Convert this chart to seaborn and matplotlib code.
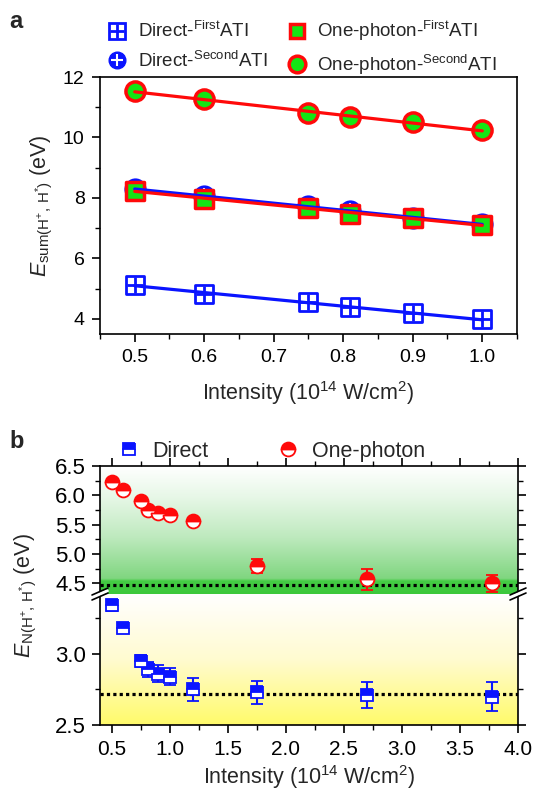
import numpy as np
import pandas as pd
import matplotlib
matplotlib.use("Agg")
import matplotlib.pyplot as plt
import seaborn as sns
from matplotlib.colors import LinearSegmentedColormap
from matplotlib.lines import Line2D
from matplotlib.ticker import MultipleLocator

sns.set_theme(style="ticks")
plt.rcParams["font.family"] = ["Liberation Sans", "DejaVu Sans"]
plt.rcParams["mathtext.fontset"] = "custom"
plt.rcParams["mathtext.rm"] = "Liberation Sans"
plt.rcParams["mathtext.it"] = "Liberation Sans:italic"
plt.rcParams["mathtext.bf"] = "Liberation Sans:bold"

# ---------------- Panel a data ----------------
intensity_a = [0.5, 0.6, 0.75, 0.81, 0.9, 1.0]
direct_first = [5.12, 4.83, 4.56, 4.39, 4.18, 3.98]
direct_second = [8.29, 8.07, 7.72, 7.57, 7.33, 7.14]
onephoton_first = [8.23, 7.98, 7.68, 7.47, 7.33, 7.10]
onephoton_second = [11.53, 11.28, 10.80, 10.67, 10.50, 10.25]
labels_a = ["Direct-$^{\\mathrm{First}}$ATI", "Direct-$^{\\mathrm{Second}}$ATI",
            "One-photon-$^{\\mathrm{First}}$ATI", "One-photon-$^{\\mathrm{Second}}$ATI"]

# ---------------- Panel b data ----------------
intensity_b = [0.5, 0.6, 0.75, 0.81, 0.9, 1.0, 1.2, 1.75, 2.7, 3.78]
direct_b = [3.34, 3.18, 2.95, 2.89, 2.86, 2.84, 2.75, 2.73, 2.71, 2.70]
direct_err = [0.04, 0.03, 0.04, 0.05, 0.06, 0.06, 0.08, 0.08, 0.09, 0.10]
onephoton_b = [6.23, 6.09, 5.91, 5.75, 5.70, 5.66, 5.56, 4.80, 4.57, 4.50]
onephoton_err = [0.04, 0.04, 0.04, 0.04, 0.04, 0.04, 0.04, 0.12, 0.18, 0.15]
direct_limit = 2.72
onephoton_limit = 4.48
labels_b = ["Direct", "One-photon"]

BLUE = "#0a14ff"
RED = "#ff0a0a"
GREEN = "#14e614"
W, H = 534, 794
FT = 14      # tick labels
FL = 15.5    # axis labels

fig = plt.figure(figsize=(W / 100, H / 100), dpi=100)

def fx(px):
    return px / W

def fy(py):
    return 1 - py / H

# ================= Panel a =================
axa = fig.add_axes([fx(100), fy(334), (517 - 100) / W, (334 - 77) / H])
dfa = pd.DataFrame({"x": intensity_a, "df": direct_first, "ds": direct_second,
                    "of": onephoton_first, "os": onephoton_second})

sns.scatterplot(data=dfa, x="x", y="df", marker="s", s=150, facecolor="white",
                edgecolor=BLUE, linewidth=2, ax=axa, zorder=3)
sns.scatterplot(data=dfa, x="x", y="df", marker="+", s=130, color=BLUE,
                linewidth=2, ax=axa, zorder=4)
sns.scatterplot(data=dfa, x="x", y="ds", marker="o", s=210, facecolor=BLUE,
                edgecolor=BLUE, linewidth=1.5, ax=axa, zorder=3)
sns.scatterplot(data=dfa, x="x", y="ds", marker="+", s=120, color="white",
                linewidth=1.5, ax=axa, zorder=4)
sns.scatterplot(data=dfa, x="x", y="of", marker="s", s=150, facecolor=GREEN,
                edgecolor=RED, linewidth=2.5, ax=axa, zorder=5)
sns.scatterplot(data=dfa, x="x", y="os", marker="o", s=190, facecolor=GREEN,
                edgecolor=RED, linewidth=2.5, ax=axa, zorder=5)
for col, c, z in [("df", BLUE, 6), ("ds", BLUE, 6), ("of", RED, 7), ("os", RED, 7)]:
    sns.regplot(data=dfa, x="x", y=col, ci=None, scatter=False, ax=axa,
                line_kws=dict(color=c, lw=2.3, zorder=z))

axa.set_xlim(0.45, 1.05)
axa.set_ylim(3.5, 12)
axa.xaxis.set_minor_locator(MultipleLocator(0.05))
axa.yaxis.set_major_locator(MultipleLocator(2))
axa.yaxis.set_minor_locator(MultipleLocator(1))
axa.set_xticks([0.5, 0.6, 0.7, 0.8, 0.9, 1.0])
axa.set_xticklabels(["0.5", "0.6", "0.7", "0.8", "0.9", "1.0"])
axa.set_xlabel("Intensity (10$^{14}$ W/cm$^{2}$)", fontsize=FL, labelpad=9)
axa.set_ylabel("$E_{\\mathrm{sum(H^{+},\\,H^{*})}}$ (eV)", fontsize=FL, labelpad=6)

h_df = (Line2D([], [], ls="", marker="s", ms=11, mfc="white", mec=BLUE, mew=2),
        Line2D([], [], ls="", marker="+", ms=10, color=BLUE, mew=2))
h_ds = (Line2D([], [], ls="", marker="o", ms=12, mfc=BLUE, mec=BLUE),
        Line2D([], [], ls="", marker="+", ms=9, color="white", mew=1.5))
h_of = Line2D([], [], ls="", marker="s", ms=10, mfc=GREEN, mec=RED, mew=2.5)
h_os = Line2D([], [], ls="", marker="o", ms=12, mfc=GREEN, mec=RED, mew=2.5)
fig.legend([h_df, h_ds, h_of, h_os], labels_a, ncol=2, frameon=False,
           loc="upper left", bbox_to_anchor=(fx(107), fy(19)), fontsize=13.5,
           handlelength=1.1, handletextpad=0.55, columnspacing=1.0,
           labelspacing=0.5, borderaxespad=0, borderpad=0)

# ================= Panel b =================
axt = fig.add_axes([fx(100), fy(594), (518 - 100) / W, (594 - 466) / H])
axb = fig.add_axes([fx(100), fy(725), (518 - 100) / W, (725 - 594) / H])
xl = (0.4, 4.0)
yt = (4.32, 6.5)
yb = (2.5, 3.42)

grad = np.linspace(0, 1, 256).reshape(-1, 1)
cm_green = LinearSegmentedColormap.from_list(
    "g", [(0, "#ffffff"), (0.25, "#e6f7e6"), (0.55, "#bfeabf"),
          (0.88, "#80d680"), (0.9, "#44cc44"), (1.0, "#3cc83c")])
cm_yellow = LinearSegmentedColormap.from_list(
    "y", [(0, "#ffffff"), (0.5, "#fffbd0"), (1.0, "#fffa6a")])
axt.imshow(grad, cmap=cm_green, aspect="auto", origin="upper",
           extent=[xl[0], xl[1], yt[0], yt[1]], zorder=0)
axb.imshow(grad, cmap=cm_yellow, aspect="auto", origin="upper",
           extent=[xl[0], xl[1], yb[0], yb[1]], zorder=0)

dot = dict(color="black", lw=2.3, ls=(0, (1, 1)), dash_capstyle="butt", zorder=2)
axt.axhline(onephoton_limit, **dot)
axb.axhline(direct_limit, **dot)

axt.errorbar(intensity_b, onephoton_b, yerr=onephoton_err, fmt="o", ms=10,
             color=RED, mfc=RED, mfcalt="white", mec=RED, fillstyle="top",
             mew=1.3, elinewidth=1.5, capsize=4, capthick=1.5, zorder=3)
axb.errorbar(intensity_b, direct_b, yerr=direct_err, fmt="s", ms=9,
             color=BLUE, mfc=BLUE, mfcalt="white", mec=BLUE, fillstyle="top",
             mew=1.3, elinewidth=1.5, capsize=4, capthick=1.5, zorder=3)

for ax, yl in [(axt, yt), (axb, yb)]:
    ax.set_xlim(*xl)
    ax.set_ylim(*yl)
    ax.xaxis.set_major_locator(MultipleLocator(0.5))
    ax.xaxis.set_minor_locator(MultipleLocator(0.25))
    ax.yaxis.set_major_locator(MultipleLocator(0.5))
    ax.yaxis.set_minor_locator(MultipleLocator(0.25))
    ax.set_xlabel("")
    ax.set_ylabel("")

axt.spines["bottom"].set_visible(False)
axb.spines["top"].set_visible(False)
axt.tick_params(axis="x", which="both", bottom=False, labelbottom=False, top=True)
axt.tick_params(axis="y", which="both", right=True)
axb.tick_params(axis="y", which="both", right=True)
axb.set_yticks([2.5, 3.0])
axb.set_xticks([0.5, 1.0, 1.5, 2.0, 2.5, 3.0, 3.5, 4.0])
axb.set_xticklabels(["0.5", "1.0", "1.5", "2.0", "2.5", "3.0", "3.5", "4.0"])
axt.set_yticks([4.5, 5.0, 5.5, 6.0, 6.5])
axt.set_yticklabels(["4.5", "5.0", "5.5", "6.0", "6.5"])
axb.set_yticklabels(["2.5", "3.0"])
axb.set_xlabel("Intensity (10$^{14}$ W/cm$^{2}$)", fontsize=FL, labelpad=3)

for ax in [axa, axt, axb]:
    for s in ax.spines.values():
        s.set_linewidth(1.2)
        s.set_color("black")
    ax.tick_params(which="major", direction="out", length=6, width=1.2,
                   labelsize=FT, color="black", labelcolor="black", pad=5)
    ax.tick_params(which="minor", direction="out", length=3.5, width=1.0,
                   color="black")
for ax in [axt, axb]:
    ax.tick_params(axis="y", which="major", labelsize=16, pad=4)
    ax.tick_params(axis="x", which="major", labelsize=15, pad=5)

# break marks
for px in (100, 518):
    for dy in (-2.5, 2.5):
        fig.add_artist(Line2D([fx(px - 8), fx(px + 8)], [fy(594 + dy + 3.5), fy(594 + dy - 3.5)],
                              color="black", lw=1.2, zorder=10))
    fig.add_artist(Line2D([fx(px - 7), fx(px + 7)], [fy(594 + 3), fy(594 - 3)],
                          color="white", lw=2.6, zorder=9))

fig.text(fx(26), fy(596), "$E_{\\mathrm{N(H^{+},\\,H^{*})}}$ (eV)", rotation=90,
         ha="center", va="center", fontsize=FL)

h_d = Line2D([], [], ls="", marker="s", ms=9, mfc=BLUE, mfcalt="white", mec=BLUE,
             fillstyle="top", mew=1.3)
h_o = Line2D([], [], ls="", marker="o", ms=10, mfc=RED, mfcalt="white", mec=RED,
             fillstyle="top", mew=1.3)
fig.legend([h_d, h_o], labels_b, ncol=2, frameon=False, loc="upper left",
           bbox_to_anchor=(fx(118), fy(441)), fontsize=15.5, handlelength=1.0,
           handletextpad=0.6, columnspacing=3.2, borderaxespad=0, borderpad=0)

fig.text(fx(9), fy(10), "a", fontsize=17, fontweight="bold", ha="left", va="top")
fig.text(fx(9), fy(430), "b", fontsize=17, fontweight="bold", ha="left", va="top")

fig.savefig("out.png", dpi=100)
